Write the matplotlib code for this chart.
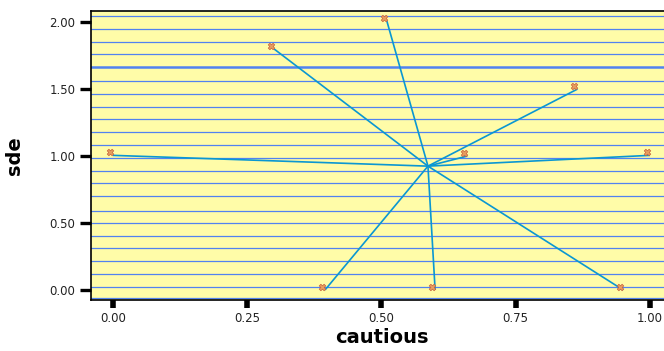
import numpy as np
import matplotlib
matplotlib.use('Agg')
import matplotlib.pyplot as plt
import matplotlib.transforms as mtransforms

# points of the star plot
cautious = [0.00, 0.30, 0.51, 0.865, 0.66, 1.00, 0.95, 0.60, 0.395]
sde = [1.005, 1.80, 2.01, 1.50, 1.00, 1.005, 0.00, 0.00, 0.00]

# ruled background lines (y values)
rule_y = [2.047, 1.946, 1.849, 1.761, 1.560, 1.460, 1.363, 1.274, 1.181,
          1.082, 0.983, 0.888, 0.796, 0.704, 0.592, 0.498, 0.403, 0.311,
          0.219, 0.119, 0.020, -0.062]
rule_thick = [1.664]

x_ticks = [0.00, 0.25, 0.50, 0.75, 1.00]
y_ticks = [0.00, 0.50, 1.00, 1.50, 2.00]

W, H = 664, 351
fig = plt.figure(figsize=(W / 100, H / 100), dpi=100)
fig.patch.set_facecolor('white')
ax = fig.add_axes([91.3 / W, (H - 300) / H, (671.5 - 91.3) / W, (300 - 10.7) / H])
ax.set_facecolor('#fffca8')
ax.set_xlim(-0.04, 1.04)
ax.set_ylim(-0.075, 2.085)

for y in rule_y:
    ax.axhline(y, color='#5182f0', lw=0.9, zorder=1)
for y in rule_thick:
    ax.axhline(y, color='#5182f0', lw=1.8, zorder=1)

# spokes from the centroid out to each point
cx, cy = np.mean(cautious), np.mean(sde)
for x, y in zip(cautious, sde):
    ax.plot([cx, x], [cy, y], color='#0a97d2', lw=1.2, zorder=3, solid_capstyle='butt')

# little markers sit just up-left of the line ends
off = mtransforms.ScaledTranslation(-3 / 100, 3 / 100, fig.dpi_scale_trans)
ax.scatter(cautious, sde, marker='X', s=22, color='#e8a060', edgecolor='#c8603a',
           linewidths=0.5, zorder=4, transform=ax.transData + off, clip_on=False)

for s in ax.spines.values():
    s.set_color('black')
    s.set_linewidth(1.2)

ax.set_xticks(x_ticks)
ax.set_xticklabels(['%.2f' % v for v in x_ticks])
ax.set_yticks(y_ticks)
ax.set_yticklabels(['%.2f' % v for v in y_ticks])
ax.tick_params(axis='x', length=6, width=4, pad=3, labelsize=8.5, colors='black')
ax.tick_params(axis='y', length=8, width=2.4, pad=3.5, labelsize=8.5, colors='black')
for lab in ax.get_xticklabels() + ax.get_yticklabels():
    lab.set_color('#222222')

ax.set_xlabel('cautious', fontsize=14, fontweight='bold', labelpad=2)
ax.set_ylabel('sde', fontsize=14, fontweight='bold', labelpad=18)

fig.savefig('out.png', dpi=100)
